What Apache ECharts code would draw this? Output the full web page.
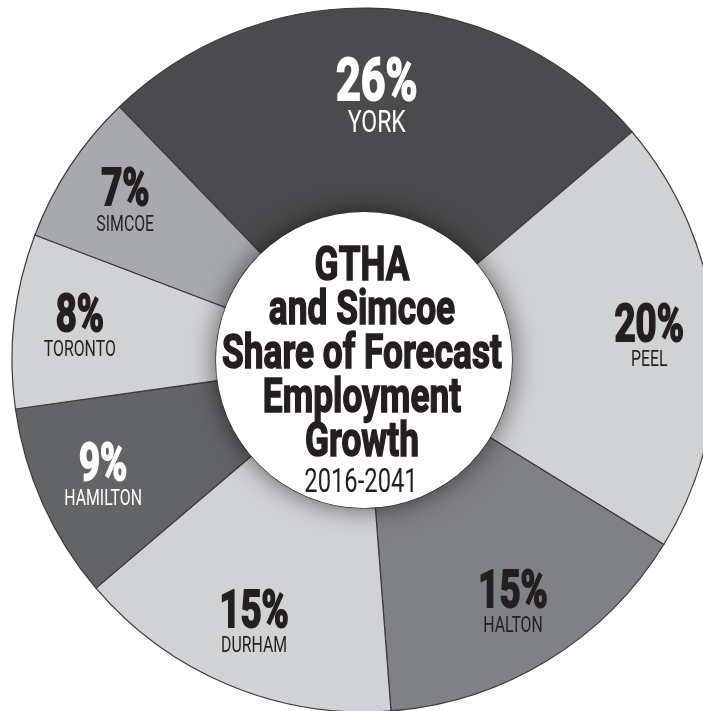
<!DOCTYPE html>
<html>
<head>
<meta charset="utf-8">
<script src="https://cdn.jsdelivr.net/npm/echarts@6/dist/echarts.min.js"></script>
<style>
html,body{margin:0;padding:0;background:#fff;}
#chart{width:703px;height:711px;}
</style>
</head>
<body>
<div id="chart"></div>
<script>
// ---- data ----
const regions = ['YORK', 'PEEL', 'HALTON', 'DURHAM', 'HAMILTON', 'TORONTO', 'SIMCOE'];
const shares = [26, 20, 15, 15, 9, 8, 7];
const titleLines = ['GTHA', 'and Simcoe', 'Share of Forecast', 'Employment', 'Growth'];
const subtitle = '2016-2041';

// ---- styles ----
const sliceColors = ['#4b4b4d', '#d1d2d4', '#808184', '#d1d2d4', '#636466', '#d1d2d4', '#a7a9ac'];
const labelColors = ['#ffffff', '#231f20', '#231f20', '#231f20', '#ffffff', '#231f20', '#231f20'];
const FONT = 'Roboto, "Liberation Sans", sans-serif';
const CONDENSE = 0.72;   // horizontal squeeze to imitate a condensed gothic face

const CENTER = [364, 360];
const R_IN = 148, R_OUT = 352;

const chart = echarts.init(document.getElementById('chart'), null, {renderer: 'canvas'});

const ringData = regions.map((n, i) => ({
  name: n, value: shares[i],
  itemStyle: {color: sliceColors[i]}
}));

function labelData(showFn) {
  return regions.map((n, i) => ({
    name: n, value: shares[i],
    label: {
      show: showFn(i), color: labelColors[i],
      rich: {p: {textBorderColor: labelColors[i]}}
    }
  }));
}

const fmt = p => '{p|' + p.value + '%}\n{n|' + p.name + '}';

const baseLabelSeries = {
  type: 'pie',
  center: CENTER,
  startAngle: 134,
  clockwise: true,
  silent: true,
  avoidLabelOverlap: false,
  labelLine: {show: false},
  itemStyle: {color: 'rgba(0,0,0,0)', borderWidth: 0},
  emphasis: {disabled: true},
  z: 5
};

const option = {
  animation: false,
  backgroundColor: '#ffffff',
  series: [
    {
      type: 'pie',
      center: CENTER,
      radius: [R_IN, R_OUT],
      startAngle: 134,
      clockwise: true,
      silent: true,
      avoidLabelOverlap: false,
      label: {show: false},
      labelLine: {show: false},
      itemStyle: {borderColor: '#3a3a3c', borderWidth: 1.2},
      emphasis: {disabled: true},
      data: ringData,
      z: 1
    },
    {
      type: 'pie',
      center: CENTER,
      radius: [0, R_IN],
      silent: true,
      label: {show: false},
      labelLine: {show: false},
      itemStyle: {
        color: '#ffffff',
        shadowBlur: 26,
        shadowColor: 'rgba(0,0,0,0.6)'
      },
      emphasis: {disabled: true},
      data: [{value: 1, name: ''}],
      z: 2
    },
    Object.assign({}, baseLabelSeries, {
      radius: [166, R_OUT],
      label: {
        show: true, position: 'inside', formatter: fmt,
        rich: {
          p: {fontFamily: FONT, fontWeight: 'bold', fontSize: 60, lineHeight: 51, textBorderWidth: 2},
          n: {fontFamily: FONT, fontSize: 32, lineHeight: 26}
        }
      },
      data: labelData(i => i === 0)
    }),
    Object.assign({}, baseLabelSeries, {
      radius: [214, R_OUT],
      label: {
        show: true, position: 'inside', formatter: fmt,
        rich: {
          p: {fontFamily: FONT, fontWeight: 'bold', fontSize: 51, lineHeight: 45, textBorderWidth: 2},
          n: {fontFamily: FONT, fontSize: 22, lineHeight: 20}
        }
      },
      data: labelData(i => i !== 0)
    })
  ],
  graphic: {
    elements: titleLines.map((t, i) => ({
      type: 'text',
      x: 362, y: 267.5 + i * 44,
      scaleX: CONDENSE,
      z: 10,
      style: {
        text: t, x: 0, y: 0,
        font: 'bold 49px ' + FONT,
        fill: '#231f20',
        stroke: '#231f20', lineWidth: 1.6,
        textAlign: 'center', textVerticalAlign: 'middle',
        align: 'center', verticalAlign: 'middle'
      }
    })).concat([{
      type: 'text',
      x: 361, y: 483.5,
      scaleX: CONDENSE,
      z: 10,
      style: {
        text: subtitle, x: 0, y: 0,
        font: '33px ' + FONT,
        fill: '#231f20',
        textAlign: 'center', textVerticalAlign: 'middle',
        align: 'center', verticalAlign: 'middle'
      }
    }])
  }
};

chart.setOption(option);

// squeeze the slice labels horizontally about their own anchor (library-placed)
try {
  const model = chart.getModel();
  [2, 3].forEach(si => {
    const data = model.getSeriesByIndex(si).getData();
    data.each(idx => {
      const el = data.getItemGraphicEl(idx);
      const tc = el && el.getTextContent && el.getTextContent();
      if (tc) { tc.scaleX = CONDENSE; tc.markRedraw(); }
    });
  });
  chart.getZr().refreshImmediately();
} catch (e) { /* keep default labels */ }
</script>
</body>
</html>
